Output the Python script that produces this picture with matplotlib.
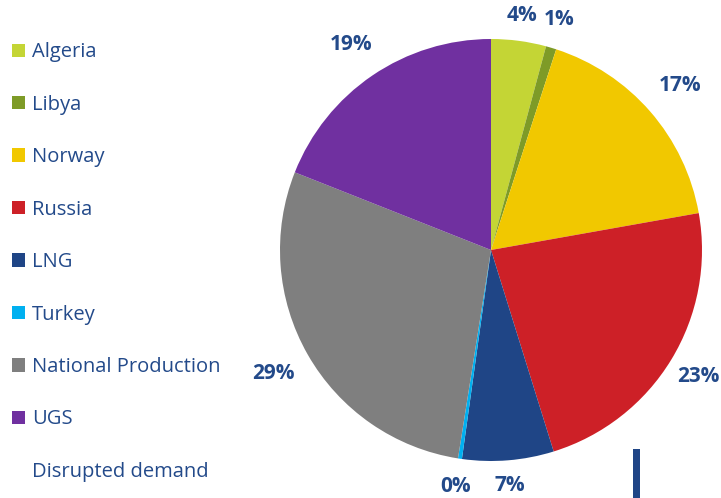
import numpy as np
import matplotlib.pyplot as plt
from matplotlib.patches import Patch, Rectangle

# Gas supply shares, clockwise from 12 o'clock
sources = ['Algeria', 'Libya', 'Norway', 'Russia', 'LNG', 'Turkey',
           'National Production', 'UGS']
shares = [4.2, 0.8, 17.2, 23.0, 7.0, 0.3, 28.5, 19.0]
share_labels = ['4%', '1%', '17%', '23%', '7%', '0%', '29%', '19%']
colors = ['#C4D535', '#7E9B27', '#F1C800', '#CD2027', '#1F4586',
          '#00B0F0', '#7F7F7F', '#7030A0']
extra_entry = 'Disrupted demand'
# radial distance of each percentage label (in pie radii)
label_dist = [1.12, 1.14, 1.19, 1.15, 1.12, 1.135, 1.185, 1.18]

text_color = '#234A8A'
plt.rcParams['font.family'] = ['Open Sans', 'DejaVu Sans']

fig = plt.figure(figsize=(7.21, 4.98), dpi=100)
ax = fig.add_axes([0, 0, 1, 1])

# Pie: centre at (491, 250) px from top-left, radius 211 px
scale = 211.0
wedges, texts = ax.pie(shares, labels=share_labels, colors=colors,
                       startangle=90, counterclock=False,
                       wedgeprops=dict(linewidth=0),
                       textprops=dict(color=text_color, fontsize=15,
                                      fontweight='bold'))
for w, t, d in zip(wedges, texts, label_dist):
    mid = np.deg2rad((w.theta1 + w.theta2) / 2)
    t.set_position((d * np.cos(mid), d * np.sin(mid)))
    t.set_horizontalalignment('center')
    t.set_verticalalignment('center')

ax.set_xlim(-491 / scale, (721 - 491) / scale)
ax.set_ylim(-(498 - 250) / scale, 250 / scale)
ax.set_aspect('equal', adjustable='box')
ax.axis('off')

# Legend on the left
handles = [Patch(facecolor=c, edgecolor='none') for c in colors]
handles.append(Patch(facecolor='none', edgecolor='none'))
leg = fig.legend(handles, sources + [extra_entry], loc='upper left',
                 bbox_to_anchor=(4 / 721, 0.931), frameon=False,
                 fontsize=14.5, labelspacing=1.61, handlelength=0.65,
                 handleheight=0.65, handletextpad=0.33, borderaxespad=0.0)
for t in leg.get_texts():
    t.set_color(text_color)

# small dark-blue bar at the bottom right
fig.patches.append(Rectangle((633 / 721, 0), 7 / 721, 49 / 498,
                             transform=fig.transFigure,
                             facecolor='#1F4586', edgecolor='none'))

fig.savefig('out.png', dpi=100)
